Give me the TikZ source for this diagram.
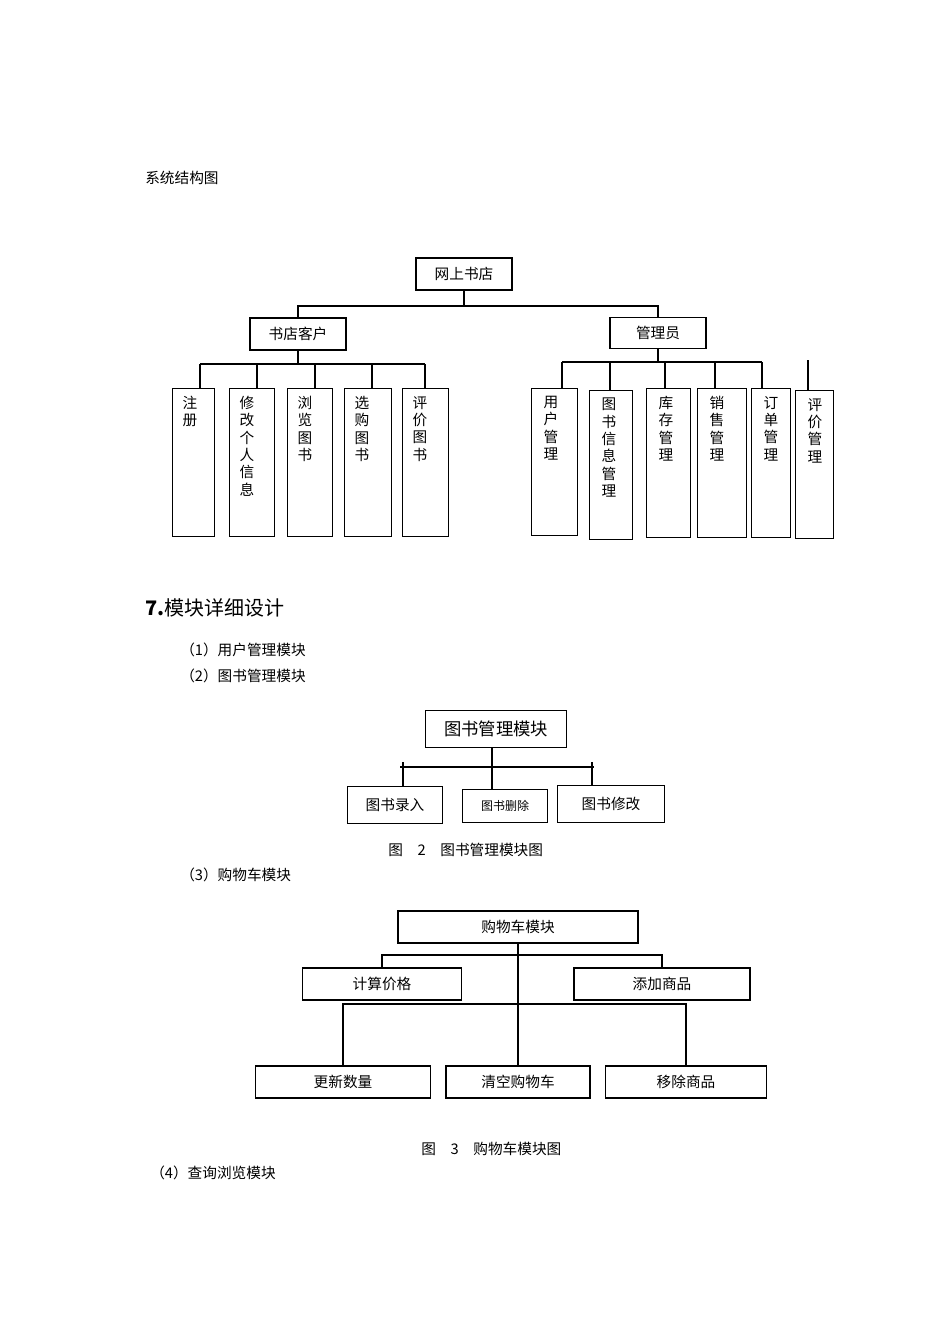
\documentclass[tikz,border=0pt]{standalone}
\usepackage{fontspec}
\setmainfont{Liberation Serif}
\newfontfamily\cjk{Noto Sans CJK SC}
\usetikzlibrary{calc}
\tikzset{
  box/.style={draw,line width=.8pt,inner sep=0pt,font=\cjk\fontsize{11}{13}\selectfont},
  txt/.style={anchor=west,inner sep=0pt,font=\cjk\fontsize{11}{13}\selectfont},
  vtxt/.style={anchor=north,inner sep=0pt,align=center,font=\cjk\fontsize{11}{13}\selectfont},
  ln/.style={line width=.8pt}
}
\begin{document}
\begin{tikzpicture}[x=.75pt,y=-.75pt]
\useasboundingbox (0,0) rectangle (950,1344);
\node[txt] (title) at (145,178) {系统结构图};
% top tree
\node[box,minimum width=72pt,minimum height=24pt] (root) at (464,274) {网上书店};
\node[box,minimum width=72pt,minimum height=24pt] (cust) at (298,334) {书店客户};
\node[box,minimum width=72pt,minimum height=23pt] (adm) at (658,333) {管理员};
\draw[ln] (root.south) -- (464,306) coordinate (m1);
\draw[ln] (cust.north) |- (m1) -| (adm.north);
\foreach \n/\x/\w/\t in {a/172/42/{注\\册},b/229/45/{修\\改\\个\\人\\信\\息},c/287/45/{浏\\览\\图\\书},d/344/47/{选\\购\\图\\书},e/402/46/{评\\价\\图\\书}}{
  \node[box,anchor=north west,minimum width=\w*.75pt,minimum height=111pt] (\n) at (\x,388) {};
  \node[vtxt] at ($(\n.north west)+(18,8)$) {\t};
}
\draw[ln] (cust.south) -- (298,364) coordinate (m2);
\draw[ln] (200,364) -- (425,364);
\foreach \n/\x in {a/200,b/257,c/315,d/372,e/425}
  \draw[ln] (\x,364) -- (\x,388);
\foreach \n/\x/\y/\w/\h/\t in {f/531/388/46/147/{用\\户\\管\\理},g/589/390/43/149/{图\\书\\信\\息\\管\\理},h/646/388/44/149/{库\\存\\管\\理},i/697/388/49/149/{销\\售\\管\\理},j/751/388/39/149/{订\\单\\管\\理},k/795/390/38/148/{评\\价\\管\\理}}{
  \node[box,anchor=north west,minimum width=\w*.75pt,minimum height=\h*.75pt] (\n) at (\x,\y) {};
  \node[vtxt] at ($(\n.north west)+(20,8)$) {\t};
}
\draw[ln] (adm.south) -- (658,362);
\draw[ln] (562,362) -- (762,362);
\foreach \x/\y in {562/388,610/390,665/388,715/388,762/388}
  \draw[ln] (\x,362) -- (\x,\y);
\draw[ln] (808,360) -- (k.north -| {(808,0)});
% section
\node[txt,font=\cjk\fontsize{15}{18}\selectfont] (sec) at (145,608) {\textbf{7.}模块详细设计};
\node[txt] (p1) at (180,650) {（1）用户管理模块};
\node[txt] (p2) at (180,676) {（2）图书管理模块};
% book module
\node[box,minimum width=106pt,minimum height=28pt,font=\cjk\fontsize{13}{15}\selectfont] (bm) at (496,729) {图书管理模块};
\node[box,minimum width=71pt,minimum height=28pt] (b1) at (395,805) {图书录入};
\node[box,minimum width=64pt,minimum height=25pt,font=\cjk\fontsize{9}{11}\selectfont] (b2) at (505,806) {图书删除};
\node[box,minimum width=80pt,minimum height=28pt] (b3) at (611,804) {图书修改};
\draw[ln] (bm.south -| {(492,0)}) -- (492,790);
\draw[ln] (400,767) -- (594,767);
\draw[ln] (403,762) -- (b1.north -| {(403,0)});
\draw[ln] (592,762) -- (b3.north -| {(592,0)});
\node[txt] (cap2) at (388,850) {图　2　图书管理模块图};
\node[txt] (p3) at (180,875) {（3）购物车模块};
% cart module
\node[box,minimum width=180pt,minimum height=24pt] (cm) at (518,927) {购物车模块};
\node[box,minimum width=119pt,minimum height=24pt] (c1) at (382,984) {计算价格};
\node[box,minimum width=132pt,minimum height=24pt] (c2) at (662,984) {添加商品};
\node[box,minimum width=131pt,minimum height=24pt] (c3) at (343,1082) {更新数量};
\node[box,minimum width=108pt,minimum height=24pt] (c4) at (518,1082) {清空购物车};
\node[box,minimum width=121pt,minimum height=24pt] (c5) at (686,1082) {移除商品};
\draw[ln] (cm.south) -- (518,1004);
\draw[ln] (c1.north) |- (518,955) -| (c2.north);
\draw[ln] (c3.north) |- (518,1004) -| (c5.north);
\draw[ln] (518,1004) -- (c4.north);
\node[txt] (cap3) at (421,1149) {图　3　购物车模块图};
\node[txt] (p4) at (150,1173) {（4）查询浏览模块};
\end{tikzpicture}
\end{document}
